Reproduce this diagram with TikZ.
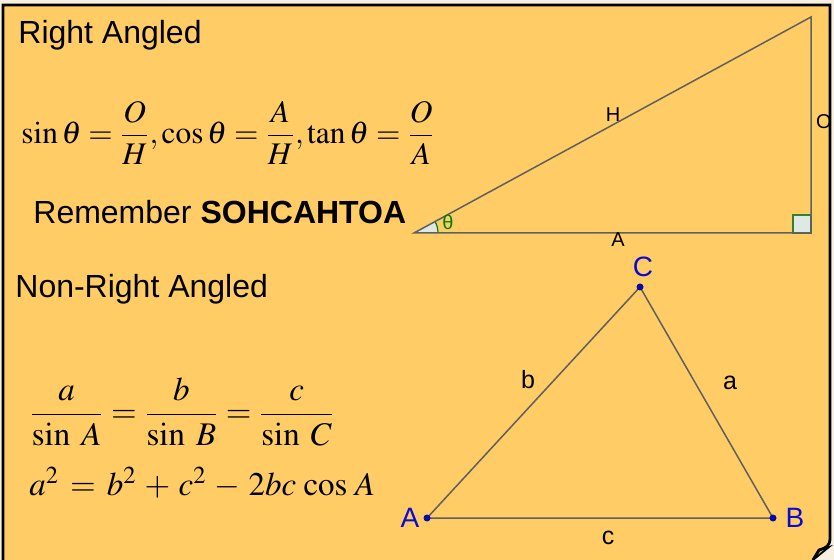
\documentclass[tikz,border=0pt]{standalone}
\usepackage{amsmath}
\usepackage{mathptmx}
\usepackage[no-math]{fontspec}
\setmainfont{Liberation Sans}
\usepackage{tikz}
\usepackage{xcolor}
\definecolor{cardfill}{RGB}{255,204,102}
\definecolor{pagebg}{RGB}{247,240,226}
\definecolor{edgegray}{RGB}{95,95,95}
\definecolor{anglegreen}{RGB}{0,128,0}
\definecolor{pointblue}{RGB}{10,10,210}
\definecolor{boxfill}{RGB}{222,232,228}
\definecolor{curltan}{RGB}{214,170,92}

\begin{document}
\begin{tikzpicture}[
  x=0.5pt, y=-0.5pt,
  every node/.style={font=\fontsize{16}{19}\selectfont, inner sep=0pt},
  heading/.style={anchor=base west},
  formula/.style={anchor=west, font=\fontsize{16.5}{20}\selectfont},
  edge/.style={draw=edgegray, line width=0.75pt},
  sidelabel/.style={font=\fontsize{10}{12}\selectfont},
  vertexlabel/.style={font=\fontsize{14}{17}\selectfont, text=pointblue},
  edgelabel/.style={font=\fontsize{12.5}{15}\selectfont}
]
\useasboundingbox (0,0) rectangle (834,560);
\fill[pagebg] (0,0) rectangle (834,560);

% Card
\fill[cardfill] (3,5) rectangle (830,560);
\fill[pagebg] (813,560) -- (830,541) -- (834,541) -- (834,560) -- cycle;
\fill[curltan, draw=black, line width=0.9pt] (813,560) -- (819,550) -- (829,547) -- cycle;
\draw[line width=1.4pt] (3,560) -- (3,5) -- (830,5) -- (830,538)
  .. controls (830,546) and (826,548) .. (819,550) -- (813,560);

% Headings and formulas
\node[heading] (rtitle) at (18,44) {Right Angled};
\node[formula, font=\fontsize{15.7}{19}\selectfont] (soh) at (21,133) {$\sin\theta=\dfrac{O}{H},\cos\theta=\dfrac{A}{H},\tan\theta=\dfrac{O}{A}$};
\node[heading] (remember) at (33,224) {Remember \textbf{SOHCAHTOA}};
\node[heading] (ntitle) at (15,298) {Non-Right Angled};
\node[formula] (sinerule) at (29,412) {$\dfrac{a}{\sin\;A}=\dfrac{b}{\sin\;B}=\dfrac{c}{\sin\;C}$};
\node[formula, anchor=base west] (cosrule) at (29,495) {$a^2\,=\,b^2\,+\,c^2\,-\,2bc\,\cos\,A$};

% Right angled triangle
\coordinate (ra) at (414,233);
\coordinate (rb) at (811,233);
\coordinate (rc) at (811,17);
\fill[boxfill] (ra) -- ++(24,0) arc[start angle=0, end angle=-28.55, radius=24] -- cycle;
\draw[anglegreen, line width=0.6pt] (ra) ++(24,0) arc[start angle=0, end angle=-28.55, radius=24];
\filldraw[fill=boxfill, draw=anglegreen!60!gray, line width=0.6pt] (793,215) rectangle (rb);
\draw[edge] (ra) -- (rb) -- (rc) -- cycle;
\node[sidelabel, text=anglegreen] (theta) at (448,222) {θ};
\node[sidelabel] (hyp) at (613,115) {H};
\node[sidelabel] (opp) at (824,122) {O};
\node[sidelabel] (adj) at (618,240) {A};

% Non-right angled triangle
\coordinate (pa) at (427,518);
\coordinate (pb) at (773,518);
\coordinate (pc) at (640,287);
\draw[edge] (pa) -- (pb) -- (pc) -- cycle;
\foreach \p in {pa,pb,pc}
  \fill[pointblue!80!black] (\p) circle[radius=3.5];
\node[vertexlabel] (la) at (410,518) {A};
\node[vertexlabel] (lb) at (795,518) {B};
\node[vertexlabel] (lc) at (643,267) {C};
\node[edgelabel] (sb) at (528,380) {b};
\node[edgelabel] (sa) at (730,383) {a};
\node[edgelabel] (sc) at (608,538) {c};
\end{tikzpicture}
\end{document}
